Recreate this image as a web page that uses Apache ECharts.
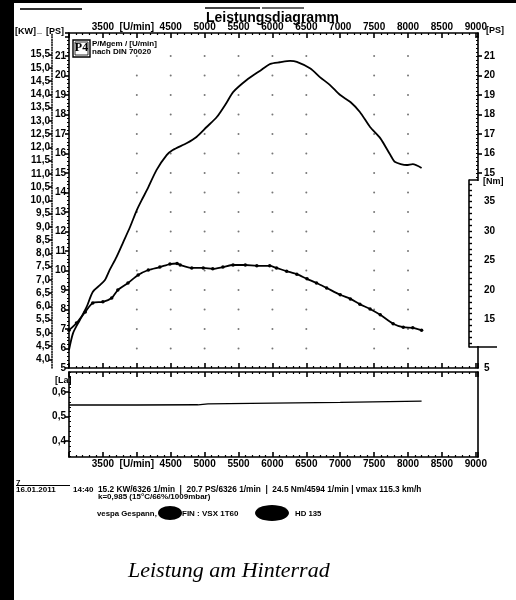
<!DOCTYPE html>
<html><head><meta charset="utf-8">
<script src="https://cdn.jsdelivr.net/npm/echarts@6/dist/echarts.min.js"></script>
<style>html,body{margin:0;padding:0;background:#fff;}#c{width:516px;height:600px;}</style>
</head><body><div id="c"></div>
<script>
// ---------- data ----------
const rpmTicks = [3500,4000,4500,5000,5500,6000,6500,7000,7500,8000,8500,9000];
const rpmTickLabels = ['3500','[U/min]','4500','5000','5500','6000','6500','7000','7500','8000','8500','9000'];
const psRightLabels = [5,15,16,17,18,19,20,21];
const psRightTicks = [15,16,17,18,19,20,21];
const kwTicks = [4.0,4.5,5.0,5.5,6.0,6.5,7.0,7.5,8.0,8.5,9.0,9.5,10.0,10.5,11.0,11.5,12.0,12.5,13.0,13.5,14.0,14.5,15.0,15.5];
const nmTicks = [15,20,25,30,35];
const laTicks = [0.4,0.5,0.6];

const powerRpm = [3000,3060,3160,3260,3350,3460,3530,3600,3700,3800,3900,4000,4070,4150,4290,4440,4530,4740,4880,5030,5180,5330,5420,5620,5820,5970,6110,6260,6360,6560,6700,6850,7000,7150,7290,7440,7590,7740,7810,7980,8070,8200];
const powerPs  = [5.92,6.79,7.46,8.13,8.90,9.26,9.51,10.03,10.69,11.46,12.23,13.10,13.60,14.13,15.15,15.92,16.18,16.54,16.85,17.36,17.87,18.64,19.15,19.77,20.25,20.60,20.68,20.75,20.70,20.36,19.92,19.51,19.00,18.64,18.13,17.36,16.79,15.92,15.56,15.41,15.46,15.26];

const torqueRpm = [3000,3110,3240,3350,3500,3630,3720,3870,4020,4170,4340,4490,4594,4640,4810,4980,5120,5270,5420,5600,5770,5960,6060,6210,6360,6510,6650,6800,7000,7150,7290,7440,7590,7780,7930,8070,8200];
const torqueNm  = [13.2,14.4,16.3,17.8,18.0,18.65,20.0,21.2,22.55,23.4,23.9,24.4,24.5,24.25,23.75,23.75,23.6,23.9,24.25,24.25,24.1,24.1,23.75,23.2,22.7,21.9,21.2,20.35,19.2,18.5,17.6,16.8,15.8,14.3,13.7,13.6,13.2];

const lambdaRpm = [3000,4000,4900,5050,6000,7000,8200];
const lambdaVal = [0.547,0.547,0.548,0.552,0.555,0.558,0.563];

const dotRpm = [4000,4500,5000,5500,6000,6500,7500,8000];
const dotPs  = [6,7,8,9,10,11,12,13,14,15,16,17,18,19,20,21];

// ---------- layout ----------
const GM = {left:69, top:33, width:409, height:335};
const GL = {left:69, top:372, width:409, height:85};
const GN = {left:469, top:180, width:9, height:167};
const X_MIN = 3000, X_MAX = 9032;
const PS_MIN = 5, PS_MAX = 22.18;
const KW_PER_PS = 0.7355;
const NM_MIN = 6.79, NM_MAX = 63.57;
const nmPerPx = (NM_MAX - NM_MIN) / GM.height;
const mainBottom = GM.top + GM.height;
const NMBOX_MIN = NM_MIN + (mainBottom - (GN.top + GN.height)) * nmPerPx;
const NMBOX_MAX = NM_MIN + (mainBottom - GN.top) * nmPerPx;
const LA_MIN = 0.335, LA_MAX = 0.682;

const F = '"Liberation Sans", Arial, sans-serif';
const lab = {fontFamily:F, fontWeight:'bold', fontSize:10, color:'#000'};
const black = {color:'#000', width:1.6};
const comma = v => Number(v).toFixed(1).replace('.', ',');
const rpmFmt = v => { const i = rpmTicks.indexOf(Math.round(v)); return i < 0 ? '' : rpmTickLabels[i]; };

function range(a, b, s) { const r = []; for (let v = a; v <= b + 1e-9; v += s) r.push(+v.toFixed(3)); return r; }
const psRightMinor = range(14.8, 22.0, 0.2);
const nmMinor = range(11, 38, 1);
const laMinor = range(0.34, 0.68, 0.02);

const dots = [];
dotRpm.forEach(r => dotPs.forEach(p => dots.push([r, p])));

function txt(text, x, y, font, align, extra) {
  return Object.assign({type:'text', z:50, style:{text, x, y, font: font || ('bold 9px ' + F), fill:'#000',
    align: align || 'left', verticalAlign:'middle', textAlign: align || 'left', textVerticalAlign:'middle'}}, extra || {});
}

const xBase = {type:'value', min:X_MIN, max:X_MAX, interval:500, splitLine:{show:false},
  axisLine:{show:true, lineStyle:black}};
const tickIn = {show:true, inside:true, length:5, lineStyle:black};
const minorIn = {show:true, splitNumber:5, length:2, lineStyle:{color:'#000', width:1.2}};

const option = {
  backgroundColor:'#fff',
  animation:false,
  grid:[
    Object.assign({}, GM),
    Object.assign({}, GL),
    Object.assign({}, GN)
  ],
  xAxis:[
    Object.assign({}, xBase, {gridIndex:0, position:'top', axisTick:tickIn, minorTick:minorIn,
      axisLabel:Object.assign({}, lab, {customValues:rpmTicks, formatter:rpmFmt, margin:1})}),
    Object.assign({}, xBase, {gridIndex:0, position:'bottom', axisTick:tickIn, minorTick:minorIn,
      axisLabel:{show:false}}),
    Object.assign({}, xBase, {gridIndex:1, position:'top', axisTick:tickIn, minorTick:minorIn,
      axisLabel:{show:false}}),
    Object.assign({}, xBase, {gridIndex:1, position:'bottom', axisTick:tickIn, minorTick:minorIn,
      axisLabel:Object.assign({}, lab, {customValues:rpmTicks, formatter:rpmFmt, margin:2})}),
    {type:'value', gridIndex:2, min:0, max:1, show:false}
  ],
  yAxis:[
    {type:'value', gridIndex:0, position:'left', min:PS_MIN, max:PS_MAX, interval:1, splitLine:{show:false},
      axisLine:{show:true, lineStyle:black},
      axisTick:{show:true, length:4, lineStyle:black},
      minorTick:{show:true, splitNumber:5, length:2, lineStyle:{color:'#000'}},
      axisLabel:Object.assign({}, lab, {margin:3, formatter:v => (v > 21 ? '' : String(v))})},
    {type:'value', gridIndex:0, position:'left', offset:17, min:PS_MIN*KW_PER_PS, max:PS_MAX*KW_PER_PS, splitLine:{show:false},
      axisLine:{show:true, lineStyle:{color:'#000', width:1.5, type:[1,1.6]}},
      axisTick:{show:true, length:3, customValues:kwTicks, lineStyle:black},
      axisLabel:Object.assign({}, lab, {customValues:kwTicks, formatter:comma, margin:2})},
    {type:'value', gridIndex:0, position:'right', min:PS_MIN, max:PS_MAX, splitLine:{show:false},
      axisLine:{show:true, lineStyle:black},
      axisTick:{show:true, length:4, customValues:psRightTicks, lineStyle:black},
      axisLabel:Object.assign({}, lab, {customValues:psRightLabels, margin:6})},
    {type:'value', gridIndex:0, position:'right', min:PS_MIN, max:PS_MAX, splitLine:{show:false},
      axisLine:{show:false},
      axisTick:{show:true, inside:true, length:2, customValues:psRightMinor, lineStyle:{color:'#000'}},
      axisLabel:{show:false}},
    {type:'value', gridIndex:0, min:NM_MIN, max:NM_MAX, show:false},
    {type:'value', gridIndex:1, position:'left', min:LA_MIN, max:LA_MAX, splitLine:{show:false},
      axisLine:{show:true, lineStyle:black},
      axisTick:{show:true, length:4, customValues:laTicks, lineStyle:black},
      axisLabel:Object.assign({}, lab, {customValues:laTicks, formatter:comma, margin:3})},
    {type:'value', gridIndex:1, position:'right', min:LA_MIN, max:LA_MAX, splitLine:{show:false},
      axisLine:{show:true, lineStyle:black}, axisTick:{show:false}, axisLabel:{show:false}},
    {type:'value', gridIndex:2, position:'left', min:NMBOX_MIN, max:NMBOX_MAX, splitLine:{show:false},
      axisLine:{show:true, lineStyle:black},
      axisTick:{show:true, inside:true, length:3, customValues:nmMinor, lineStyle:{color:'#000', width:1.4}},
      axisLabel:Object.assign({}, lab, {inside:true, customValues:nmTicks, margin:15})},
    {type:'value', gridIndex:1, position:'left', min:LA_MIN, max:LA_MAX, splitLine:{show:false},
      axisLine:{show:false},
      axisTick:{show:true, inside:true, length:2, customValues:laMinor, lineStyle:{color:'#000'}},
      axisLabel:{show:false}}
  ],
  series:[
    {type:'scatter', xAxisIndex:0, yAxisIndex:0, data:dots, symbolSize:2, silent:true,
      itemStyle:{color:'#555'}, z:1},
    {type:'line', name:'Leistung', xAxisIndex:0, yAxisIndex:0, showSymbol:false, smooth:0.25,
      data:powerRpm.map((r,i) => [r, powerPs[i]]), lineStyle:{color:'#000', width:1.8}, z:3},
    {type:'line', name:'Drehmoment', xAxisIndex:0, yAxisIndex:4, symbol:'circle', symbolSize:3.5, smooth:0.25,
      data:torqueRpm.map((r,i) => [r, torqueNm[i]]), lineStyle:{color:'#000', width:1.8},
      itemStyle:{color:'#000'}, z:3},
    {type:'line', name:'Lambda', xAxisIndex:2, yAxisIndex:5, showSymbol:false,
      data:lambdaRpm.map((r,i) => [r, lambdaVal[i]]), lineStyle:{color:'#000', width:1.4}, z:3}
  ],
  graphic:[
    {type:'rect', z:60, shape:{x:0, y:0, width:14, height:600}, style:{fill:'#000'}},
    {type:'rect', z:60, shape:{x:0, y:0, width:516, height:3}, style:{fill:'#000'}},
    {type:'rect', z:60, shape:{x:20, y:8, width:62, height:2}, style:{fill:'#333'}},
    {type:'rect', z:60, shape:{x:205, y:7, width:55, height:2}, style:{fill:'#444'}},
    {type:'rect', z:60, shape:{x:262, y:7, width:42, height:2}, style:{fill:'#666'}},
    {type:'rect', z:40, shape:{x:476.5, y:181, width:4, height:165}, style:{fill:'#fff'}},
    {type:'line', z:45, shape:{x1:469, y1:180, x2:478, y2:180}, style:{stroke:'#000', lineWidth:1.5}},
    {type:'line', z:45, shape:{x1:469, y1:347, x2:497, y2:347}, style:{stroke:'#000', lineWidth:1.5}},
    txt('Leistungsdiagramm', 206, 18, 'bold 14px ' + F),
    txt('[KW]', 15, 32, 'bold 9px ' + F),
    txt('_', 37, 31, 'bold 9px ' + F),
    txt('[PS]', 46, 32, 'bold 9px ' + F),
    txt('[PS]', 486, 31, 'bold 9px ' + F),
    txt('[Nm]', 483, 182, 'bold 9px ' + F),
    txt('[La]', 55, 381, 'bold 9px ' + F),
    {type:'rect', z:50, shape:{x:73, y:40, width:17, height:17}, style:{fill:'#fff', stroke:'#000', lineWidth:1.4}},
    {type:'rect', z:50, shape:{x:75, y:42, width:13, height:13}, style:{fill:'none', stroke:'#000', lineWidth:0.8}},
    txt('P4', 81.5, 48, 'bold 12px "Liberation Serif", serif', 'center'),
    txt('P/Mgem / [U/min]', 92, 44, 'bold 8px ' + F),
    txt('nach DIN 70020', 92, 52, 'bold 8px ' + F),
    txt('7', 16, 483, 'bold 8px ' + F),
    {type:'line', z:50, shape:{x1:16, y1:485.5, x2:70, y2:485.5}, style:{stroke:'#000', lineWidth:1}},
    txt('16.01.2011', 16, 489.5, 'bold 8px ' + F),
    txt('14:40', 73, 489.5, 'bold 8px ' + F),
    txt('15.2 KW/6326 1/min  |  20.7 PS/6326 1/min  |  24.5 Nm/4594 1/min | vmax 115.3 km/h', 98, 489.5, 'bold 8.3px ' + F),
    txt('k=0,985 (15°C/66%/1009mbar)', 98, 497, 'bold 8px ' + F),
    txt('vespa Gespann, FR', 97, 514, 'bold 7.8px ' + F),
    {type:'ellipse', z:55, shape:{cx:170, cy:513, rx:12, ry:7}, style:{fill:'#000'}},
    txt('FIN : VSX 1T60', 182, 514, 'bold 8px ' + F),
    {type:'ellipse', z:55, shape:{cx:272, cy:513, rx:17, ry:8}, style:{fill:'#000'}},
    txt('HD 135', 295, 514, 'bold 7.8px ' + F),
    txt('Leistung am Hinterrad', 128, 571, 'italic 22px "Liberation Serif", serif')
  ]
};
const chart = echarts.init(document.getElementById('c'), null, {renderer:'canvas', width:516, height:600});
chart.setOption(option);
</script>
</body></html>
